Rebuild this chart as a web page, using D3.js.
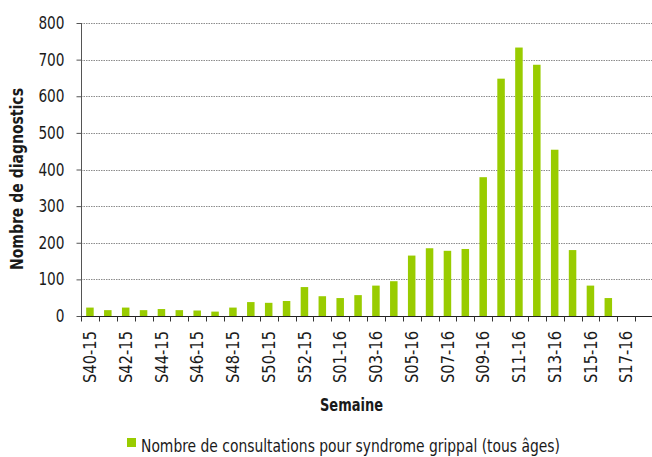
<!DOCTYPE html>
<html>
<head>
<meta charset="utf-8">
<script src="https://cdn.jsdelivr.net/npm/d3@7"></script>
<style>
  html, body { margin: 0; padding: 0; background: #fff; }
  svg { display: block; }
  text { font-family: "DejaVu Sans Condensed", "Liberation Sans Narrow", "Arial Narrow", sans-serif; fill: #1a1a1a; }
</style>
</head>
<body>
<svg id="chart" width="652" height="457"></svg>
<script>
// Data
const weeks = [
  "S40-15","S41-15","S42-15","S43-15","S44-15","S45-15","S46-15","S47-15","S48-15","S49-15",
  "S50-15","S51-15","S52-15","S53-15","S01-16","S02-16","S03-16","S04-16","S05-16","S06-16",
  "S07-16","S08-16","S09-16","S10-16","S11-16","S12-16","S13-16","S14-16","S15-16","S16-16",
  "S17-16","S18-16"
];
const consultations = [
  23, 16, 23, 16, 19, 16, 15, 12, 23, 38,
  36, 41, 79, 54, 49, 57, 83, 95, 165, 185,
  178, 183, 379, 648, 733, 686, 454, 180, 83, 49,
  null, null
];
const yTicks = [0, 100, 200, 300, 400, 500, 600, 700, 800];
const seriesName = "Nombre de consultations pour syndrome grippal (tous âges)";
const xTitle = "Semaine";
const yTitle = "Nombre de diagnostics";

const svg = d3.select("#chart");
const pLeft = 81, pRight = 653, pTop = 23, pBottom = 316;
const barColor = "#99cc00";

const x = d3.scaleBand().domain(weeks).range([pLeft, pRight]).paddingInner(0.58).paddingOuter(0.29);
const xb = d3.scaleBand().domain(weeks).range([pLeft, pRight]);
const y = d3.scaleLinear().domain([0, 800]).range([pBottom, pTop]);

// gridlines
svg.append("g")
  .selectAll("line")
  .data(yTicks.filter(d => d > 0))
  .join("line")
  .attr("x1", pLeft).attr("x2", 652)
  .attr("y1", d => Math.round(y(d)) + 0.5).attr("y2", d => Math.round(y(d)) + 0.5)
  .attr("stroke", "#8c8c8c")
  .attr("stroke-width", 1)
  .attr("stroke-dasharray", "1.5,1");

// bars
svg.append("g")
  .selectAll("rect")
  .data(weeks.map((w, i) => ({w, v: consultations[i]})).filter(d => d.v != null))
  .join("rect")
  .attr("x", d => x(d.w))
  .attr("width", x.bandwidth())
  .attr("y", d => y(d.v))
  .attr("height", d => y(0) - y(d.v))
  .attr("fill", barColor);

// y axis
const yAxis = d3.axisLeft(y).tickValues(yTicks).tickSize(5).tickPadding(12);
const gy = svg.append("g").attr("transform", `translate(${pLeft + 0.5},0)`).call(yAxis);
gy.select(".domain").attr("stroke", "#555").attr("d", `M0,${pTop}V${pBottom}`);
gy.selectAll(".tick line").attr("stroke", "#555");
gy.selectAll(".tick text")
  .attr("font-size", 17.5).attr("fill", "#1a1a1a").attr("font-family", null)
  .attr("textLength", d => String(d).length * 8.7)
  .attr("lengthAdjust", "spacingAndGlyphs");

// x axis
const gx = svg.append("g").attr("transform", `translate(0,${pBottom + 0.5})`);
gx.append("line").attr("x1", pLeft).attr("x2", 652).attr("stroke", "#222");
gx.selectAll("line.tk")
  .data(weeks.concat(["__end"]))
  .join("line")
  .attr("class", "tk")
  .attr("x1", (d, i) => Math.round(pLeft + i * xb.step()) + 0.5)
  .attr("x2", (d, i) => Math.round(pLeft + i * xb.step()) + 0.5)
  .attr("y1", 0).attr("y2", 5)
  .attr("stroke", "#333");
gx.selectAll("text")
  .data(weeks.filter((d, i) => i % 2 === 0))
  .join("text")
  .attr("transform", d => `translate(${xb(d) + xb.bandwidth() / 2 + 6.3},14.5) rotate(-90)`)
  .attr("text-anchor", "end")
  .attr("font-size", 17.5)
  .attr("textLength", 52)
  .attr("lengthAdjust", "spacingAndGlyphs")
  .text(d => d);

// axis titles
svg.append("text")
  .attr("x", 351.5).attr("y", 411)
  .attr("text-anchor", "middle")
  .attr("font-size", 17.5).attr("font-weight", "bold")
  .attr("textLength", 63).attr("lengthAdjust", "spacingAndGlyphs")
  .text(xTitle);
svg.append("text")
  .attr("transform", `translate(23,179) rotate(-90)`)
  .attr("text-anchor", "middle")
  .attr("font-size", 17.5).attr("font-weight", "bold")
  .attr("textLength", 182).attr("lengthAdjust", "spacingAndGlyphs")
  .text(yTitle);

// legend
svg.append("rect").attr("x", 127).attr("y", 438).attr("width", 9).attr("height", 9).attr("fill", barColor);
svg.append("text").attr("x", 141).attr("y", 452).attr("font-size", 17)
  .attr("textLength", 419).attr("lengthAdjust", "spacingAndGlyphs")
  .text(seriesName);
</script>
</body>
</html>
